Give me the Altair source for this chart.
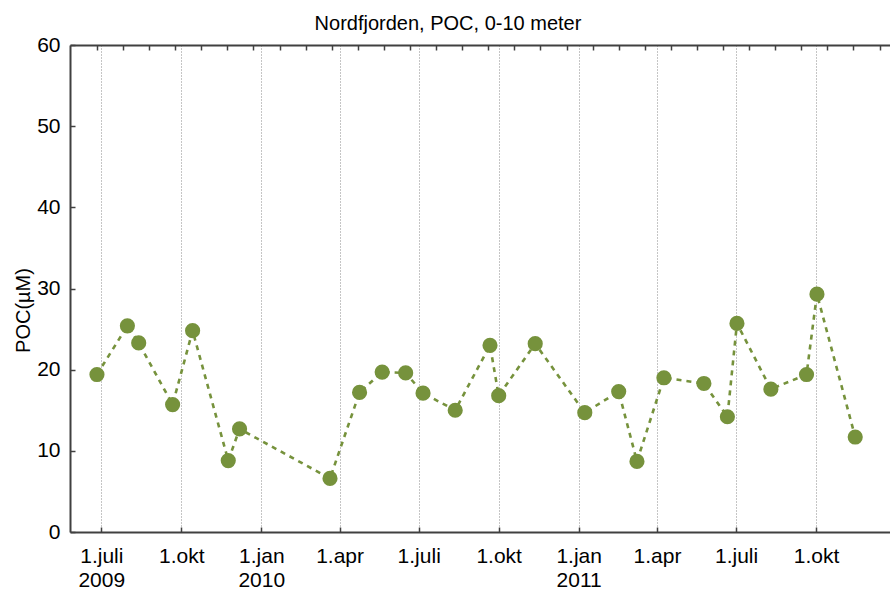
import json
import altair as alt
import pandas as pd

# ---- data ----
dates = ["2009-06-26", "2009-07-31", "2009-08-13", "2009-09-21", "2009-10-14",
         "2009-11-24", "2009-12-07", "2010-03-21", "2010-04-24", "2010-05-20",
         "2010-06-16", "2010-07-06", "2010-08-12", "2010-09-21", "2010-10-01",
         "2010-11-12", "2011-01-08", "2011-02-16", "2011-03-09", "2011-04-09",
         "2011-05-25", "2011-06-21", "2011-07-02", "2011-08-10", "2011-09-20",
         "2011-10-02", "2011-11-15"]
poc = [19.4, 25.4, 23.3, 15.7, 24.8, 8.8, 12.7, 6.6, 17.2, 19.7,
       19.6, 17.1, 15.0, 23.0, 16.8, 23.2, 14.7, 17.3, 8.7, 19.0,
       18.3, 14.2, 25.7, 17.6, 19.4, 29.3, 11.7]

tick_dates = [(2009, 7, 1), (2009, 10, 1), (2010, 1, 1), (2010, 4, 1), (2010, 7, 1),
              (2010, 10, 1), (2011, 1, 1), (2011, 4, 1), (2011, 7, 1), (2011, 10, 1)]
tick_labels = [["1.juli", "2009"], ["1.okt"], ["1.jan", "2010"], ["1.apr"], ["1.juli"],
               ["1.okt"], ["1.jan", "2011"], ["1.apr"], ["1.juli"], ["1.okt"]]
y_ticks = [0, 10, 20, 30, 40, 50, 60]
minor_start = "2009-06-26"
minor_count = 31

title_text = "Nordfjorden, POC, 0-10 meter"
y_title = "POC(µM)"

df = pd.DataFrame({"date": dates, "poc": poc})

W, H = 820, 487
COLOR = "#76923c"
AXC = "#404040"
FONT = "Liberation Sans"


def dt(y, m, d):
    return alt.DateTime(year=y, month=m, date=d, utc=True)


major_vals = [dt(*t) for t in tick_dates]
minor_vals = [dt(t.year, t.month, t.day) for t in
              pd.date_range(minor_start, periods=minor_count, freq="30D")]

expr = "''"
for (yy, mm, dd), lab in reversed(list(zip(tick_dates, tick_labels))):
    expr = (f"(utcyear(datum.value)=={yy} && utcmonth(datum.value)=={mm - 1}) "
            f"? {json.dumps(lab)} : ({expr})")

xscale = alt.Scale(domain=[dt(2009, 5, 26), dt(2011, 12, 25)])
yscale = alt.Scale(domain=[0, 60], nice=False, zero=False)

base = alt.Chart(df)

line = base.mark_line(color=COLOR, strokeDash=[5, 5], strokeWidth=2.6).encode(
    x=alt.X("date:T", scale=xscale,
            axis=alt.Axis(orient="bottom", values=major_vals, labelExpr=expr,
                          ticks=False, tickSize=0, domain=True, domainColor=AXC,
                          domainWidth=2, grid=True, gridColor="#8a8a8a",
                          gridDash=[1, 2], gridWidth=1, labelFont=FONT,
                          labelFontSize=21, labelColor="black", labelPadding=13,
                          labelLineHeight=24, labelAngle=0, labelFlush=False,
                          labelOverlap=False, title=None)),
    y=alt.Y("poc:Q", scale=yscale,
            axis=alt.Axis(orient="left", values=y_ticks, ticks=False, tickSize=0,
                          domain=True, domainColor=AXC, domainWidth=2, grid=False,
                          labelFont=FONT, labelFontSize=21, labelColor="black",
                          labelPadding=10, title=y_title, titleFont=FONT,
                          titleFontSize=20, titleFontWeight="normal",
                          titleColor="black", titleAngle=270, titleX=-47,
                          titleY=265, titleAlign="center", titleBaseline="middle")),
)

points = base.mark_circle(color=COLOR, size=230, opacity=1).encode(
    x=alt.X("date:T", scale=xscale,
            axis=alt.Axis(orient="top", offset=-H, values=major_vals, labels=False,
                          ticks=True, tickSize=5, tickColor=AXC, tickWidth=1.5,
                          domain=False, grid=False, title=None)),
    y=alt.Y("poc:Q", scale=yscale,
            axis=alt.Axis(orient="right", offset=-W, values=y_ticks, labels=False,
                          ticks=True, tickSize=5, tickColor=AXC, tickWidth=1.5,
                          domain=False, grid=False, title=None)),
)

border = base.mark_circle(opacity=0).encode(
    x=alt.X("date:T", scale=xscale,
            axis=alt.Axis(orient="bottom", offset=-H, values=minor_vals, labels=False,
                          ticks=True, tickSize=5, tickColor=AXC, tickWidth=1.5,
                          domain=True, domainColor=AXC, domainWidth=2, grid=False,
                          title=None)),
    y=alt.Y("poc:Q", scale=yscale, axis=None),
)

chart = alt.layer(line, points, border).resolve_axis(
    x="independent", y="independent"
).properties(
    width=W, height=H,
    title=alt.TitleParams(title_text, font=FONT, fontSize=20, fontWeight="normal",
                          color="black", anchor="middle", dx=-32, offset=-16,
                          baseline="alphabetic"),
    autosize=alt.AutoSizeParams(type="none"),
    padding={"left": 70, "top": 45, "right": 0, "bottom": 59},
    background="white",
).configure_view(stroke=None)

chart.save("out.html", embed_options={"renderer": "svg", "actions": False})
